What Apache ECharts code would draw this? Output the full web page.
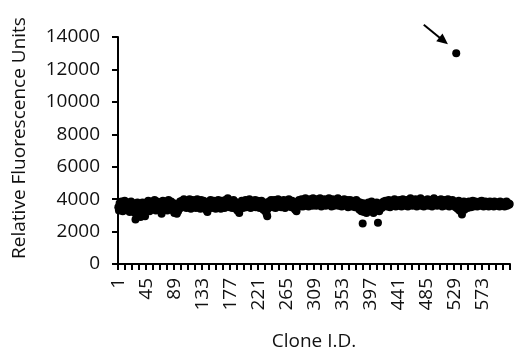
<!DOCTYPE html>
<html>
<head>
<meta charset="utf-8">
<script src="https://cdn.jsdelivr.net/npm/echarts@6/dist/echarts.min.js"></script>
<style>
  html, body { margin: 0; padding: 0; background: #fff; }
  #chart { width: 515px; height: 352px; }
</style>
</head>
<body>
<div id="chart"></div>
<script>
// fluorescence per clone (616 clones)
var rfu = [
  3500, 3300, 3750, 3600, 3400, 3850, 3550, 3250, 3700, 3450, 3900, 3600, 3350, 3650, 3800, 3300, 3550, 3700, 3200, 3600, 3850, 3450,
  3650, 3300, 3750, 3500, 3150, 2750, 3600, 3400, 3800, 3550, 3300, 3700, 3450, 2900, 3650, 3350, 3800, 3550, 3250, 3700, 2950, 3500,
  3800, 3350, 3600, 3900, 3450, 3250, 3750, 3550, 3350, 3850, 3600, 3400, 3700, 3950, 3500, 3300, 3650, 3850, 3450, 3600, 3350, 3800,
  3550, 3250, 3100, 3650, 3900, 3450, 3700, 3350, 3600, 3850, 3500, 3300, 3750, 3950, 3550, 3400, 3700, 3850, 3450, 3600, 3300, 3750,
  3150, 3500, 3200, 3650, 3100, 3400, 3250, 3700, 3550, 3850, 3450, 3650, 3900, 3600, 3750, 4000, 3550, 3850, 3650, 3450, 3900, 3700,
  3800, 3550, 4000, 3650, 3400, 3850, 3700, 3950, 3500, 3750, 3900, 3600, 3450, 3800, 4000, 3650, 3550, 3850, 3700, 3400, 3950, 3600,
  3750, 3500, 3900, 3650, 3400, 3800, 3550, 3300, 3200, 3650, 3850, 3500, 3700, 3950, 3600, 3450, 3800, 3650, 3900, 3550, 3750, 3400,
  3850, 3600, 3700, 3950, 3500, 3800, 3650, 3400, 3900, 3750, 3550, 3850, 3650, 3450, 3950, 3700, 3550, 3800, 4050, 3600, 3750, 3500,
  3900, 3650, 3800, 3450, 3700, 3950, 3550, 3850, 3600, 3400, 3750, 3300, 3500, 3650, 3150, 3400, 3800, 3600, 3900, 3700, 3450, 3850,
  3600, 3750, 3950, 3500, 3700, 3850, 3550, 3800, 4000, 3650, 3450, 3900, 3700, 3550, 3850, 3600, 3750, 3950, 3500, 3800, 3650, 3900,
  3550, 3750, 3450, 3850, 3650, 3900, 3500, 3700, 3350, 3600, 3800, 3250, 3500, 3100, 2950, 3400, 3650, 3850, 3550, 3750, 3950, 3600,
  3800, 3500, 3700, 3950, 3650, 3450, 3850, 3600, 3750, 4000, 3550, 3800, 3650, 3900, 3500, 3700, 3850, 3600, 3950, 3750, 3450, 3800,
  3650, 3900, 3550, 3750, 4000, 3600, 3850, 3700, 3500, 3900, 3650, 3800, 3450, 3700, 3350, 3550, 3250, 3600, 3850, 3700, 3950, 3550,
  3800, 3650, 4000, 3750, 3550, 3900, 3700, 3850, 4050, 3600, 3800, 3950, 3700, 3550, 3850, 4000, 3650, 3900, 3750, 3600, 4050, 3800,
  3700, 3950, 3850, 3600, 4000, 3750, 3900, 3650, 3800, 4050, 3700, 3550, 3950, 3850, 3650, 3900, 4000, 3750, 3600, 3850, 3950, 3700,
  3800, 4050, 3650, 3900, 3750, 3550, 3850, 4000, 3700, 3600, 3950, 3800, 3650, 3900, 3750, 4050, 3600, 3850, 3700, 3950, 3800, 3550,
  3900, 3700, 3850, 4000, 3650, 3800, 3600, 3950, 3750, 3500, 3850, 3700, 3950, 3600, 3800, 3550, 3900, 3750, 3650, 3850, 3500, 3750,
  3950, 3600, 3850, 3450, 3700, 3350, 3800, 3550, 3250, 3650, 2500, 3750, 3200, 3500, 3700, 3400, 3150, 3600, 3350, 3800, 3500, 3250,
  3700, 3450, 3850, 3300, 3600, 3150, 3750, 3500, 3650, 3350, 3800, 3550, 2550, 3700, 3250, 3600, 3650, 3650, 3450, 3800, 3550, 3850,
  3700, 3600, 3900, 3750, 3550, 3850, 3650, 3950, 3700, 3500, 3800, 3650, 3900, 3750, 3600, 3850, 4000, 3700, 3550, 3800, 3650, 3900,
  3750, 3600, 3950, 3700, 3850, 3550, 3800, 4000, 3650, 3900, 3700, 3600, 3850, 3950, 3750, 3550, 3800, 3650, 3900, 4050, 3700, 3850,
  3600, 3950, 3750, 3850, 3650, 4000, 3800, 3550, 3700, 3900, 3650, 3850, 3750, 4050, 3600, 3800, 3950, 3700, 3550, 3850, 3650, 3900,
  3800, 3700, 4000, 3600, 3850, 3750, 3950, 3650, 3800, 3550, 3900, 3700, 4050, 3850, 3650, 3750, 3950, 3600, 3800, 3900, 3700, 3850,
  3650, 4000, 3750, 3550, 3850, 3700, 3950, 3600, 3800, 3900, 3650, 3750, 4000, 3850, 3550, 3700, 3900, 3800, 3650, 3950, 3750, 3600,
  3850, 3700, 3500, 13000, 3800, 3400, 3650, 3900, 3300, 3600, 3750, 3200, 3050, 3500, 3700, 3850, 3350, 3600, 3800, 3550, 3750, 3450,
  3700, 3850, 3600, 3750, 3500, 3800, 3650, 3900, 3550, 3750, 3650, 3850, 3600, 3750, 3550, 3800, 3700, 3650, 3850, 3600, 3750, 3900,
  3650, 3800, 3550, 3750, 3700, 3850, 3600, 3750, 3650, 3800, 3550, 3700, 3850, 3650, 3750, 3600, 3800, 3700, 3550, 3850, 3650, 3750,
  3700, 3600, 3800, 3650, 3750, 3550, 3850, 3700, 3600, 3750, 3650, 3800, 3700, 3550, 3750, 3650, 3850, 3600, 3700, 3750, 3650, 3700
];
// clone ids 1..616
var clones = rfu.map(function (v, i) { return String(i + 1); });
var yTicks = [0, 2000, 4000, 6000, 8000, 10000, 12000, 14000];
// arrow pointing at the high clone, in data coords [clone index, RFU]
var arrowTail = [480, 14750];
var arrowTip = [518, 13550];

var font = '"Open Sans", sans-serif';
var txt = '#111';

var chart = echarts.init(document.getElementById('chart'));
chart.setOption({
    animation: false,
    grid: { left: 118, right: 5, top: 37, bottom: 88, outerBoundsMode: 'none' },
    xAxis: {
        type: 'category',
        data: clones,
        boundaryGap: true,
        name: 'Clone I.D.',
        nameLocation: 'middle',
        nameGap: 68,
        nameTextStyle: { fontFamily: font, fontSize: 19, color: txt },
        axisLine: { show: true, lineStyle: { color: '#000', width: 2 } },
        axisTick: { show: true, interval: 10, length: 6, lineStyle: { color: '#000', width: 2 } },
        axisLabel: {
            interval: 43,
            rotate: 90,
            margin: 14,
            fontFamily: font,
            fontSize: 19,
            color: txt
        },
        splitLine: { show: false }
    },
    yAxis: {
        type: 'value',
        min: yTicks[0],
        max: yTicks[yTicks.length - 1],
        interval: 2000,
        axisLine: { show: true, lineStyle: { color: '#000', width: 2 } },
        axisTick: { show: true, length: 6, lineStyle: { color: '#000', width: 2 } },
        axisLabel: {
            margin: 18,
            fontFamily: font,
            fontSize: 19,
            color: txt,
            formatter: function (v) { return String(v); }
        },
        splitLine: { show: false }
    },
    graphic: [{
        id: 'yname',
        type: 'text',
        x: 20,
        y: 138,
        rotation: Math.PI / 2,
        style: {
            text: 'Relative Fluorescence Units',
            font: '19px "Open Sans", sans-serif',
            fill: txt,
            textAlign: 'center',
            textVerticalAlign: 'middle'
        }
    }],
    series: [{
        type: 'scatter',
        data: rfu,
        symbol: 'circle',
        symbolSize: 8,
        itemStyle: { color: '#000', opacity: 1 },
        clip: false
    }]
});

// arrow annotation
var p0 = chart.convertToPixel({ seriesIndex: 0 }, arrowTail);
var p1 = chart.convertToPixel({ seriesIndex: 0 }, arrowTip);
var dx = p1[0] - p0[0], dy = p1[1] - p0[1];
var len = Math.sqrt(dx * dx + dy * dy);
var ux = dx / len, uy = dy / len;
var head = 11, half = 5;
var bx = p1[0] - ux * head, by = p1[1] - uy * head;
chart.setOption({
    graphic: [{
        id: 'arrowLine',
        type: 'line',
        shape: { x1: p0[0], y1: p0[1], x2: bx + ux * 2, y2: by + uy * 2 },
        style: { stroke: '#000', lineWidth: 2 }
    }, {
        id: 'arrowHead',
        type: 'polygon',
        shape: { points: [[p1[0], p1[1]], [bx - uy * half, by + ux * half], [bx + uy * half, by - ux * half]] },
        style: { fill: '#000' }
    }]
});
</script>
</body>
</html>
